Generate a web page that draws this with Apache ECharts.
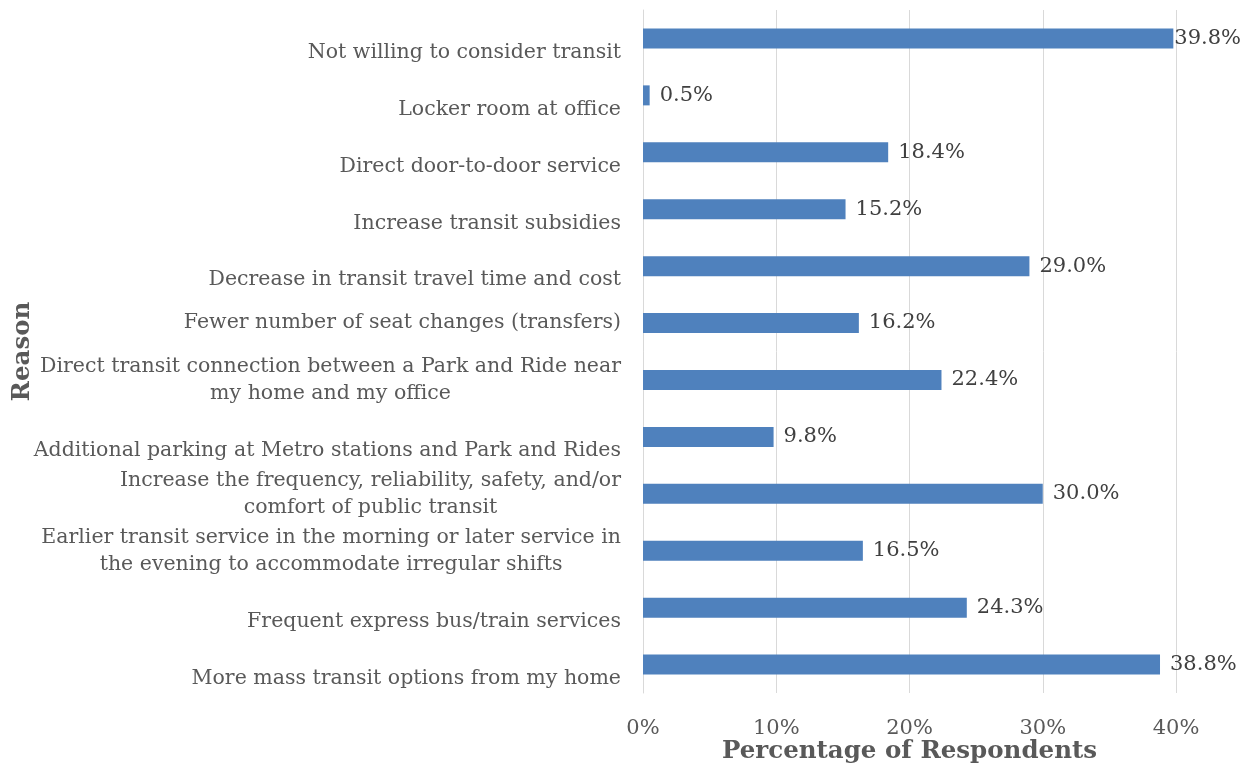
<!DOCTYPE html>
<html>
<head>
<meta charset="utf-8">
<script src="https://cdn.jsdelivr.net/npm/echarts@6/dist/echarts.min.js"></script>
<style>html,body{margin:0;padding:0;background:#fff}#c{width:1253px;height:766px}</style>
</head>
<body>
<div id="c"></div>
<script>
// Categories, top to bottom as shown in the chart
const categories = [
  "Not willing to consider transit",
  "Locker room at office",
  "Direct door-to-door service",
  "Increase transit subsidies",
  "Decrease in transit travel time and cost",
  "Fewer number of seat changes (transfers)",
  "Direct transit connection between a Park and Ride near\nmy home and my office",
  "Additional parking at Metro stations and Park and Rides",
  "Increase the frequency, reliability, safety, and/or\ncomfort of public transit",
  "Earlier transit service in the morning or later service in\nthe evening to accommodate irregular shifts",
  "Frequent express bus/train services",
  "More mass transit options from my home"
];
// Percentage of respondents
const values = [39.8, 0.5, 18.4, 15.2, 29.0, 16.2, 22.4, 9.8, 30.0, 16.5, 24.3, 38.8];
const xTicks = [0, 10, 20, 30, 40];

const FONT = 'DejaVu Serif';
const TXT = '#595959';
// label nudges (style only): single-line labels sit lower than their bar
const labelDown = [true, true, true, true, true, false, false, true, false, false, true, true];

const yData = categories.map((c, i) => ({
  value: c,
  textStyle: { padding: labelDown[i] ? [28, 0, 0, 0] : [0, 0, 0, 0] }
}));
const barData = values.map((v, i) => (i === 0 ? { value: v, label: { distance: 1 } } : v));

const chart = echarts.init(document.getElementById('c'));
chart.setOption({
  animation: false,
  grid: { left: 643, right: 77, top: 10, bottom: 73, outerBoundsMode: 'none' },
  xAxis: {
    type: 'value',
    min: xTicks[0], max: xTicks[xTicks.length - 1], interval: 10,
    axisLine: { show: false }, axisTick: { show: false },
    splitLine: { lineStyle: { color: '#d9d9d9', width: 1 } },
    axisLabel: { formatter: '{value}%', fontFamily: FONT, fontSize: 21, color: TXT, margin: 25 },
    name: 'Percentage of Respondents', nameLocation: 'middle', nameGap: 46, nameMoveOverlap: false,
    nameTextStyle: { fontFamily: FONT, fontSize: 24.5, fontWeight: 'bold', color: TXT }
  },
  yAxis: {
    type: 'category', inverse: true, data: yData,
    axisLine: { show: true, lineStyle: { color: '#d9d9d9', width: 1 } },
    axisTick: { show: false },
    axisLabel: {
      margin: 22, fontFamily: FONT, fontSize: 20.5, color: TXT, lineHeight: 27,
      formatter: v => v.split('\n').map(l => '{c|' + l + '}').join('\n'),
      rich: { c: { align: 'center', fontFamily: FONT, fontSize: 20.5, color: TXT, lineHeight: 27 } }
    },
    name: 'Reason', nameLocation: 'middle', nameGap: 608, nameRotate: 90, nameMoveOverlap: false,
    nameTextStyle: { fontFamily: FONT, fontSize: 24.5, fontWeight: 'bold', color: TXT }
  },
  series: [{
    type: 'bar', data: barData, barWidth: 20,
    itemStyle: { color: '#4f81bd' },
    label: { show: true, position: 'right', distance: 10, formatter: p => p.value.toFixed(1) + '%',
      fontFamily: FONT, fontSize: 21, color: '#404040' }
  }]
});
</script>
</body>
</html>
